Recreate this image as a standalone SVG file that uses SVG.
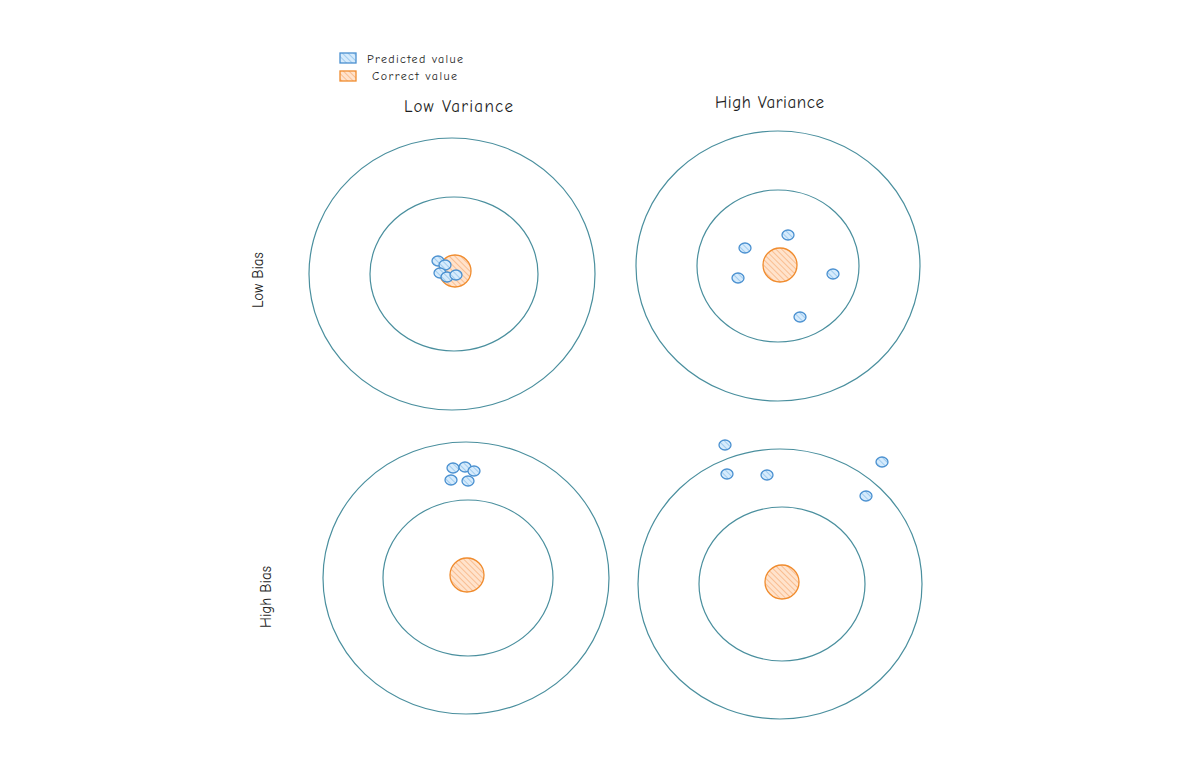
<svg xmlns="http://www.w3.org/2000/svg" width="1199" height="778" viewBox="0 0 1199 778">
<style>
.ring{fill:none;stroke:#4a8f9e;stroke-width:1.2}
.cor{fill:url(#hO);stroke:#f08c2e;stroke-width:1.3}
.pred{fill:url(#hB);stroke:#4a90d0;stroke-width:1.3}
.t{font-family:"Comic Neue","Liberation Sans",sans-serif;fill:#1e1e1e}
.lg{font-size:12px}
.hd{font-size:17px}
.sd{font-size:15px}
</style>
<defs>
<pattern id="hO" width="4" height="4" patternUnits="userSpaceOnUse" patternTransform="rotate(-45)">
<rect width="4" height="4" fill="#ffe3cc"/><line x1="0" y1="0" x2="0" y2="4" stroke="#f5a66a" stroke-width="1.2"/>
</pattern>
<pattern id="hB" width="4" height="4" patternUnits="userSpaceOnUse" patternTransform="rotate(-45)">
<rect width="4" height="4" fill="#d6ebfc"/><line x1="0" y1="0" x2="0" y2="4" stroke="#7cb6e6" stroke-width="1.2"/>
</pattern>
</defs>
<rect width="1199" height="778" fill="#ffffff"/>
<g id="legend">
<rect x="340" y="53" width="16" height="10" class="pred"/>
<text x="367" y="63" class="t lg" textLength="96" lengthAdjust="spacing">Predicted value</text>
<rect x="340" y="71" width="16" height="10" class="cor"/>
<text x="372" y="80" class="t lg" textLength="85" lengthAdjust="spacing">Correct value</text>
</g>
<g id="labels">
<text x="404" y="112" class="t hd" textLength="109" lengthAdjust="spacing">Low Variance</text>
<text x="715" y="108" class="t hd" textLength="109" lengthAdjust="spacing">High Variance</text>
<text x="263" y="280" text-anchor="middle" class="t sd" transform="rotate(-90 263 280)">Low Bias</text>
<text x="271" y="597" text-anchor="middle" class="t sd" transform="rotate(-90 271 597)">High Bias</text>
</g>
<g id="target-low-bias-low-variance">
<ellipse cx="452" cy="274" rx="143" ry="136" class="ring"/>
<ellipse cx="454" cy="274" rx="84" ry="77" class="ring"/>
<circle cx="455" cy="271" r="16" class="cor"/>
<ellipse cx="438" cy="261" rx="6" ry="5" class="pred"/>
<ellipse cx="445" cy="265" rx="6" ry="5" class="pred"/>
<ellipse cx="440" cy="273" rx="6" ry="5" class="pred"/>
<ellipse cx="447" cy="277" rx="6" ry="5" class="pred"/>
<ellipse cx="456" cy="275" rx="6" ry="5" class="pred"/>
</g>
<g id="target-low-bias-high-variance">
<ellipse cx="778" cy="266" rx="142" ry="135" class="ring"/>
<ellipse cx="778" cy="266" rx="81" ry="76" class="ring"/>
<circle cx="780" cy="265" r="17" class="cor"/>
<ellipse cx="745" cy="248" rx="6" ry="5" class="pred"/>
<ellipse cx="788" cy="235" rx="6" ry="5" class="pred"/>
<ellipse cx="738" cy="278" rx="6" ry="5" class="pred"/>
<ellipse cx="833" cy="274" rx="6" ry="5" class="pred"/>
<ellipse cx="800" cy="317" rx="6" ry="5" class="pred"/>
</g>
<g id="target-high-bias-low-variance">
<ellipse cx="466" cy="578" rx="143" ry="136" class="ring"/>
<ellipse cx="468" cy="578" rx="85" ry="78" class="ring"/>
<circle cx="467" cy="575" r="17" class="cor"/>
<ellipse cx="453" cy="468" rx="6" ry="5" class="pred"/>
<ellipse cx="465" cy="467" rx="6" ry="5" class="pred"/>
<ellipse cx="474" cy="471" rx="6" ry="5" class="pred"/>
<ellipse cx="451" cy="480" rx="6" ry="5" class="pred"/>
<ellipse cx="468" cy="481" rx="6" ry="5" class="pred"/>
</g>
<g id="target-high-bias-high-variance">
<ellipse cx="780" cy="584" rx="142" ry="135" class="ring"/>
<ellipse cx="782" cy="584" rx="83" ry="77" class="ring"/>
<circle cx="782" cy="582" r="17" class="cor"/>
<ellipse cx="725" cy="445" rx="6" ry="5" class="pred"/>
<ellipse cx="727" cy="474" rx="6" ry="5" class="pred"/>
<ellipse cx="767" cy="475" rx="6" ry="5" class="pred"/>
<ellipse cx="882" cy="462" rx="6" ry="5" class="pred"/>
<ellipse cx="866" cy="496" rx="6" ry="5" class="pred"/>
</g>
<g id="connectors"></g>
</svg>
